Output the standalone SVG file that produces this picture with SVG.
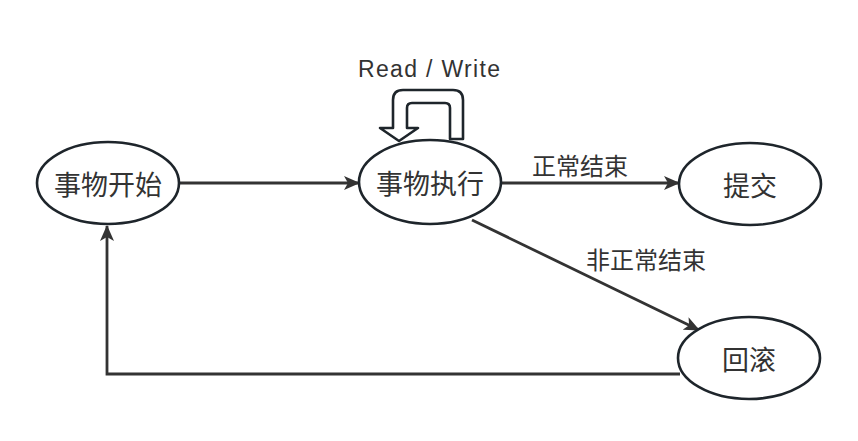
<svg xmlns="http://www.w3.org/2000/svg" width="858" height="441" viewBox="0 0 858 441">
<style>
.node{fill:#fff;stroke:#1e252b;stroke-width:2.6}
.t{font-family:"Noto Sans CJK SC","Noto Sans",sans-serif;fill:#333;text-anchor:middle;dominant-baseline:central}
.nt{font-size:27px}
.lt{font-size:24px}
.edge{fill:none;stroke:#333;stroke-width:2.8}
</style>
<defs>
<marker id="ah" viewBox="0 0 16 14" refX="15" refY="7" markerWidth="16" markerHeight="14" markerUnits="userSpaceOnUse" orient="auto">
<path d="M0,0 L16,7 L0,14 L4,7 Z" fill="#333"/>
</marker>
</defs>
<g id="connectors">
<line class="edge" x1="180" y1="183" x2="359" y2="183" marker-end="url(#ah)"/>
<line class="edge" x1="501" y1="183" x2="679" y2="183" marker-end="url(#ah)"/>
<line class="edge" x1="472" y1="220" x2="699" y2="330" marker-end="url(#ah)"/>
<polyline class="edge" points="680,374 107,374 107,226" marker-end="url(#ah)"/>
<path id="selfloop" d="M463,139 L463,100 Q463,90 453,90 L403,90 Q393,90 393,100 L393,128 L380,128 L399,141 L418,128 L407,128 L407,108 Q407,103 412,103 L445,103 Q450,103 450,108 L450,139 Z" fill="#fff" stroke="#1e252b" stroke-width="2.6" stroke-linejoin="round"/>
<text class="t" x="429" y="69" textLength="142" lengthAdjust="spacing" style="font-family:'Liberation Sans','Noto Sans',sans-serif;font-size:23px">Read / Write</text>
<text class="t lt" x="580" y="164">正常结束</text>
<text class="t lt" x="646" y="258">非正常结束</text>
</g>
<g id="n-start">
<ellipse class="node" cx="108" cy="183" rx="71" ry="41"/>
<text class="t nt" x="108" y="183">事物开始</text>
</g>
<g id="n-exec">
<ellipse class="node" cx="430" cy="182" rx="71" ry="42"/>
<text class="t nt" x="430" y="182">事物执行</text>
</g>
<g id="n-commit">
<ellipse class="node" cx="750" cy="184" rx="71" ry="41"/>
<text class="t nt" x="750" y="184">提交</text>
</g>
<g id="n-rollback">
<ellipse class="node" cx="749" cy="358" rx="71" ry="41"/>
<text class="t nt" x="749" y="358">回滚</text>
</g>
</svg>
